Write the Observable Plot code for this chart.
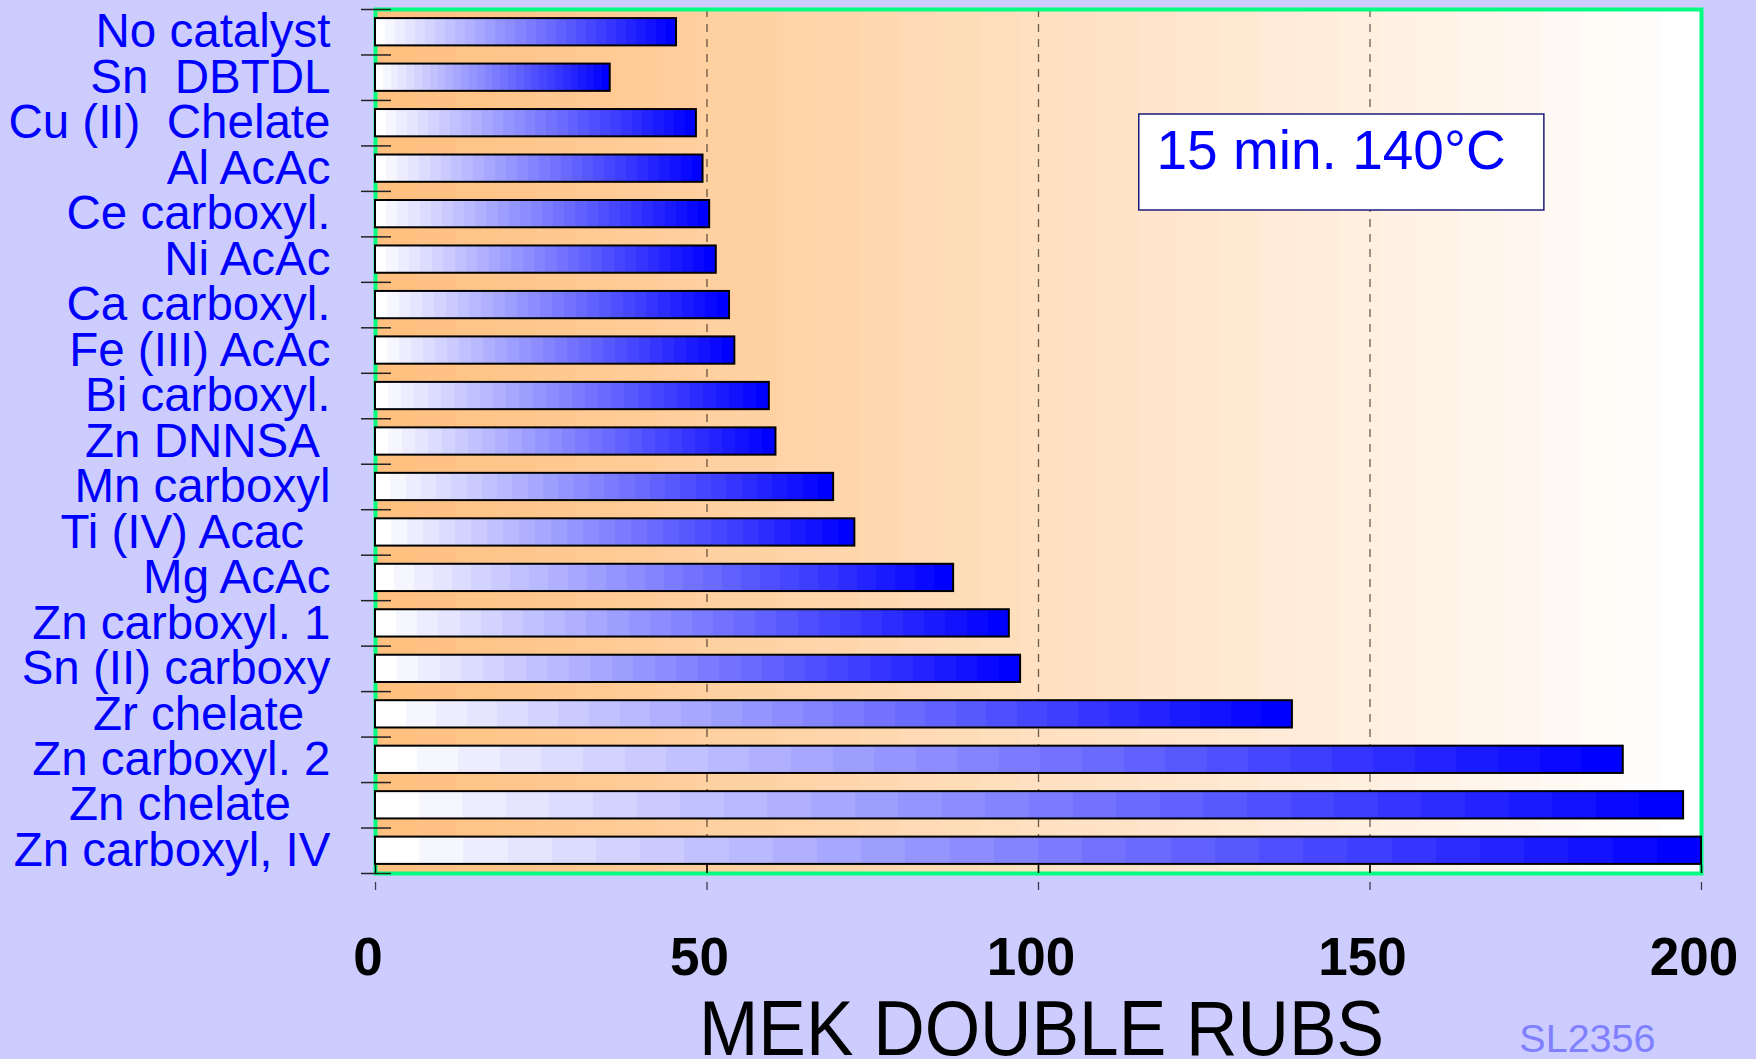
<!DOCTYPE html>
<html><head><meta charset="utf-8">
<script src="https://cdn.jsdelivr.net/npm/d3@7"></script>
<script src="https://cdn.jsdelivr.net/npm/@observablehq/plot@0.6"></script>
<style>html,body{margin:0;padding:0;background:#CCCCFF;} svg{display:block;}</style>
</head><body><div id="chart"></div>
<script>
// ---- data ----
const categories = ["No catalyst","Sn  DBTDL","Cu (II)  Chelate","Al AcAc","Ce carboxyl.","Ni AcAc","Ca carboxyl.","Fe (III) AcAc","Bi carboxyl.","Zn DNNSA ","Mn carboxyl","Ti (IV) Acac  ","Mg AcAc","Zn carboxyl. 1","Sn (II) carboxy","Zr chelate  ","Zn carboxyl. 2","Zn chelate   ","Zn carboxyl, IV"];
const values = [45.4,35.4,48.4,49.4,50.4,51.4,53.4,54.2,59.4,60.4,69.1,72.3,87.2,95.6,97.3,138.3,188.2,197.3,200];
const xTicks = [0,50,100,150,200];
const xTitle = "MEK DOUBLE RUBS";
const noteText = "15 min. 140°C";
const slideId = "SL2356";

const data = categories.map((name, i) => ({name, value: values[i]}));

// ---- layout ----
const W = 1756, H = 1059, mL = 375, mR = 55, mT = 9, mB = 186;
const step = (H - mT - mB) / categories.length;
const font = "'Liberation Sans', Arial, Helvetica, sans-serif";

const svg = Plot.plot({
  width: W, height: H,
  marginLeft: mL, marginRight: mR, marginTop: mT, marginBottom: mB,
  style: `background:#CCCCFF; font-family:${font}; white-space:pre;`,
  x: {domain: [0, 200]},
  y: {domain: categories, paddingInner: 0.4, paddingOuter: 0.2, round: false},
  marks: [
    Plot.frame({fill: "url(#bgGrad)", stroke: "none"}),
    Plot.ruleX(xTicks, {x: d => d, stroke: "#000", strokeOpacity: 0.6, strokeWidth: 1.3, strokeDasharray: "8,7"}),
    Plot.ruleX(xTicks, {x: d => d, stroke: "#000", strokeOpacity: 0.7, strokeWidth: 1.3, insetTop: H - mT - mB + mT, insetBottom: -17}),
    Plot.frame({stroke: "#00FF80", strokeWidth: 4}),
    Plot.ruleX(xTicks, {x: d => d, stroke: "#000", strokeWidth: 1.5, insetTop: H - mT - mB - 8}),
    Plot.rect([0], {x1: 115.2, x2: 176.3, insetTop: 105, insetBottom: 663, fill: "white", stroke: "#1C1C7A", strokeWidth: 1.5}),
    Plot.text([noteText], {text: d => d, frameAnchor: "top-left", textAnchor: "start", lineAnchor: "top", dx: 781, dy: 120, fontSize: 55, fill: "#0000FF"}),
    Plot.barX(data, {x: "value", y: "name", fill: "url(#barGrad)", stroke: "#000", strokeWidth: 2}),
    Plot.ruleY(categories, {y: d => d, x1: 0, x2: 0, insetLeft: -14, insetRight: -16, dy: -step / 2, stroke: "#222", strokeWidth: 1.5}),
    Plot.ruleY([categories[categories.length - 1]], {y: d => d, x1: 0, x2: 0, insetLeft: -14, insetRight: -16, dy: step / 2, stroke: "#222", strokeWidth: 1.5}),
    Plot.axisY({tickSize: 0, tickPadding: 45, fontSize: 47.5, color: "#0000FF", label: null}),
    Plot.axisX({ticks: xTicks, tickSize: 0, tickPadding: 64, fontSize: 53, fontWeight: "bold", color: "#000", dx: -7.5, label: null}),
    Plot.text([xTitle], {text: d => d, frameAnchor: "bottom", lineAnchor: "top", dx: 3, dy: 127, fontSize: 77, fill: "#000"}),
    Plot.text([slideId], {text: d => d, frameAnchor: "bottom-right", textAnchor: "end", lineAnchor: "top", dx: -46, dy: 150, fontSize: 39.5, fill: "#8080FF"})
  ]
});

// gradients (stepped, like the original slide fill)
const defs = d3.select(svg).insert("defs", ":first-child");
function stepped(id, c0, c1, n) {
  const g = defs.append("linearGradient").attr("id", id).attr("x1", 0).attr("x2", 1).attr("y1", 0).attr("y2", 0);
  const interp = d3.interpolateRgb(c0, c1);
  for (let i = 0; i < n; i++) {
    const c = interp(i / (n - 1));
    g.append("stop").attr("offset", i / n).attr("stop-color", c);
    g.append("stop").attr("offset", (i + 1) / n).attr("stop-color", c);
  }
}
stepped("barGrad", "#FFFFFF", "#0000FF", 30);
stepped("bgGrad", "#FFC080", "#FFFFFF", 33);

d3.select(svg).selectAll("text").filter(function () { return this.textContent === xTitle; })
  .attr("textLength", 685).attr("lengthAdjust", "spacingAndGlyphs");

document.getElementById("chart").appendChild(svg);
</script>
</body></html>
